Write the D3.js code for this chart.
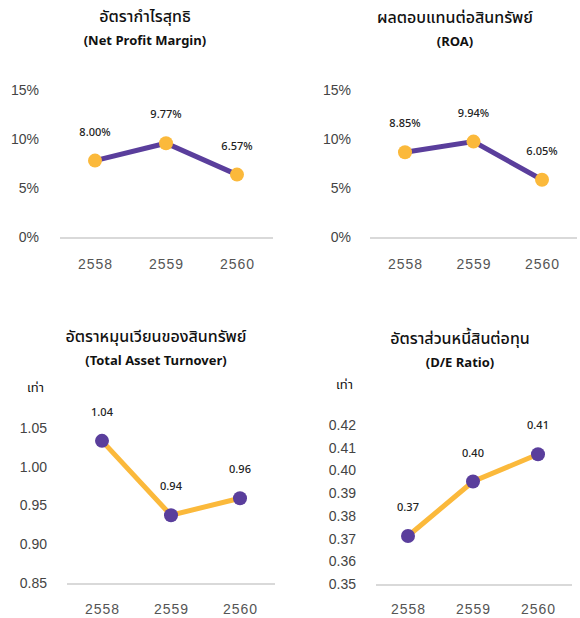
<!DOCTYPE html>
<html>
<head>
<meta charset="utf-8">
<script src="https://cdn.jsdelivr.net/npm/d3@7"></script>
<style>
  body { margin: 0; background: #fff; }
  svg { font-family: "Noto Sans Thai", "Noto Sans", "DejaVu Sans", sans-serif; }
</style>
</head>
<body>
<svg id="chart" width="580" height="618"></svg>
<script>
// years (Buddhist era)
var years = ['2558', '2559', '2560'];

// net profit margin, %
var npmValues = [8.00, 9.77, 6.57];
var npmTicks = [0, 5, 10, 15];

// return on assets, %
var roaValues = [8.85, 9.94, 6.05];
var roaTicks = [0, 5, 10, 15];

// total asset turnover, times
var tatValues = [1.036, 0.94, 0.962];
var tatTicks = [0.85, 0.90, 0.95, 1.00, 1.05];

// debt to equity, times
var deValues = [0.372, 0.396, 0.408];
var deTicks = [0.35, 0.36, 0.37, 0.38, 0.39, 0.40, 0.41, 0.42];

var purple = '#5a3e9c';
var yellow = '#fbb93b';

var svg = d3.select('#chart');

var drawChart = function(opt) {
    var g = svg.append('g');

    // title + subtitle
    g.append('text').attr('x', opt.titleX).attr('y', opt.titleY)
        .attr('text-anchor', 'middle').attr('font-size', 16)
        .attr('font-weight', 500).attr('fill', '#111').text(opt.title);
    g.append('text').attr('x', opt.titleX).attr('y', opt.titleY + 23)
        .attr('text-anchor', 'middle').attr('font-size', 13)
        .attr('font-weight', 'bold').attr('fill', '#111').text(opt.subtitle);

    if (opt.unit) {
        g.append('text').attr('x', opt.unitX).attr('y', opt.unitY)
            .attr('font-size', 13).attr('fill', '#111').text(opt.unit);
    }

    var x = d3.scalePoint().domain(years).range(opt.xRange);
    var y = d3.scaleLinear().domain(opt.yDomain).range(opt.yRange);

    // y axis labels only
    var yAxis = d3.axisLeft(y).tickValues(opt.ticks).tickFormat(opt.tickFormat)
        .tickSize(0).tickPadding(0);
    var ya = g.append('g').attr('transform', 'translate(' + opt.yLabelX + ',-2)')
        .call(yAxis);
    ya.select('.domain').remove();
    ya.selectAll('text').attr('font-size', 14).attr('fill', '#444')
        .attr('font-family', null);

    // baseline
    g.append('line').attr('x1', opt.baseX[0]).attr('x2', opt.baseX[1])
        .attr('y1', y(opt.yDomain[0]) - 1).attr('y2', y(opt.yDomain[0]) - 1)
        .attr('stroke', '#d9d9d9').attr('stroke-width', 2);

    // x axis labels
    var xAxis = d3.axisBottom(x).tickSize(0).tickPadding(0);
    var xa = g.append('g').attr('transform', 'translate(0,' + opt.xLabelY + ')')
        .call(xAxis);
    xa.select('.domain').remove();
    xa.selectAll('text').attr('font-size', 14).attr('fill', '#555')
        .attr('dy', '0.35em').attr('font-family', null)
        .attr('letter-spacing', 1);

    var line = d3.line()
        .x(function(d, i) { return x(years[i]); })
        .y(function(d) { return y(d); });

    g.append('path').datum(opt.values).attr('d', line)
        .attr('fill', 'none').attr('stroke', opt.lineColor)
        .attr('stroke-width', 5);

    g.selectAll('circle').data(opt.values).enter().append('circle')
        .attr('cx', function(d, i) { return x(years[i]); })
        .attr('cy', function(d) { return y(d); })
        .attr('r', 7).attr('fill', opt.dotColor);

    g.selectAll('.lbl').data(opt.values).enter().append('text')
        .attr('class', 'lbl')
        .attr('x', function(d, i) { return x(years[i]); })
        .attr('y', function(d) { return y(d) - 25; })
        .attr('text-anchor', 'middle').attr('font-size', 11)
        .attr('font-weight', 500).attr('fill', '#222')
        .text(opt.labelFormat);
};

var pct = function(d) { return d + '%'; };
var pct2 = function(d) { return d.toFixed(2) + '%'; };
var dec2 = function(d) { return d.toFixed(2); };

drawChart({
    title: 'อัตรากำไรสุทธิ', subtitle: '(Net Profit Margin)',
    titleX: 145, titleY: 22,
    values: npmValues, ticks: npmTicks, yDomain: [0, 15], yRange: [239, 92],
    xRange: [95, 237], baseX: [60, 273], yLabelX: 39, xLabelY: 264,
    tickFormat: pct, labelFormat: pct2, lineColor: purple, dotColor: yellow
});

drawChart({
    title: 'ผลตอบแทนต่อสินทรัพย์', subtitle: '(ROA)',
    titleX: 455, titleY: 23,
    values: roaValues, ticks: roaTicks, yDomain: [0, 15], yRange: [239, 92],
    xRange: [405, 542], baseX: [370, 577], yLabelX: 351, xLabelY: 264,
    tickFormat: pct, labelFormat: pct2, lineColor: purple, dotColor: yellow
});

drawChart({
    title: 'อัตราหมุนเวียนของสินทรัพย์', subtitle: '(Total Asset Turnover)',
    titleX: 156, titleY: 342, unit: 'เท่า', unitX: 27, unitY: 392,
    values: tatValues, ticks: tatTicks, yDomain: [0.85, 1.05], yRange: [585, 430],
    xRange: [102, 240], baseX: [67, 275], yLabelX: 47, xLabelY: 609,
    tickFormat: dec2, labelFormat: dec2, lineColor: yellow, dotColor: purple
});

drawChart({
    title: 'อัตราส่วนหนี้สินต่อทุน', subtitle: '(D/E Ratio)',
    titleX: 460, titleY: 344, unit: 'เท่า', unitX: 336, unitY: 389,
    values: deValues, ticks: deTicks, yDomain: [0.35, 0.42], yRange: [586, 427],
    xRange: [408, 538], baseX: [376, 572], yLabelX: 356, xLabelY: 609,
    tickFormat: dec2, labelFormat: dec2, lineColor: yellow, dotColor: purple
});
</script>
</body>
</html>
